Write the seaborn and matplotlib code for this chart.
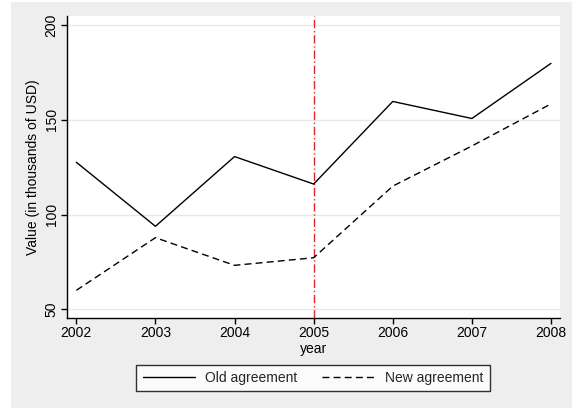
import matplotlib
matplotlib.use("Agg")
import matplotlib.pyplot as plt
import seaborn as sns
import pandas as pd
from matplotlib.lines import Line2D
from matplotlib.patches import Rectangle

years = [2002, 2003, 2004, 2005, 2006, 2007, 2008]
old_agreement = [127.6, 93.8, 130.6, 116.1, 159.7, 150.7, 179.8]
new_agreement = [60.0, 87.8, 73.2, 77.2, 115.0, 136.2, 158.4]
y_ticks = [50, 100, 150, 200]
event_year = 2005

sns.set_theme(style="white")
plt.rcParams['font.family'] = ['Liberation Sans', 'DejaVu Sans']

df = pd.DataFrame({
    "year": years * 2,
    "value": old_agreement + new_agreement,
    "series": ["Old agreement"] * len(years) + ["New agreement"] * len(years),
})

FS = 10

fig = plt.figure(figsize=(5.72, 4.08), dpi=100, facecolor="white")
fig.patches.append(Rectangle((11/572, 0), 1 - 11/572, 1 - 2/408,
                             transform=fig.transFigure, facecolor="#eeeeee",
                             edgecolor="none", zorder=-10))
ax = fig.add_axes([67/572, 1 - 318/408, (560-67)/572, (318-16)/408])
ax.set_facecolor("white")

for yv in y_ticks:
    ax.axhline(yv, color="#e8e8e8", lw=1, zorder=0)

sns.lineplot(data=df, x="year", y="value", hue="series", style="series",
             palette={"Old agreement": "black", "New agreement": "black"},
             dashes={"Old agreement": "", "New agreement": (5, 3)},
             lw=1, ax=ax, legend=False)

ax.axvline(event_year, color="#e3242b", lw=1, ls=(0, (6, 2, 1, 2)), zorder=1)

ax.set_xlim(2001.882, 2008.114)
ax.set_ylim(45.4, 204.8)
ax.set_xticks(years)
ax.set_yticks(y_ticks)
ax.set_yticklabels([str(v) for v in y_ticks], rotation=90, va="center")
ax.tick_params(axis="both", direction="out", length=4, width=1, color="black",
               labelsize=FS, bottom=True, left=True, pad=2, labelcolor="black")
for s in ["top", "right"]:
    ax.spines[s].set_visible(False)
for s in ["left", "bottom"]:
    ax.spines[s].set_color("black")
    ax.spines[s].set_linewidth(1)

ax.set_xlabel("year", fontsize=FS, labelpad=1, color="black")
ax.set_ylabel("Value (in thousands of USD)", fontsize=FS, labelpad=3, color="black")

handles = [Line2D([], [], color="black", lw=1),
           Line2D([], [], color="black", lw=1, dashes=(5, 3))]
leg = fig.legend(handles, ["Old agreement", "New agreement"], ncol=2,
                 loc="center", bbox_to_anchor=(313/572, 1 - 378/408),
                 fontsize=FS, frameon=True, fancybox=False, edgecolor="black",
                 handlelength=3.8, columnspacing=1.8, handletextpad=0.7,
                 borderpad=0.45)
leg.get_frame().set_linewidth(1)
leg.get_frame().set_facecolor("white")

fig.savefig("out.png", dpi=100, facecolor=fig.get_facecolor())
